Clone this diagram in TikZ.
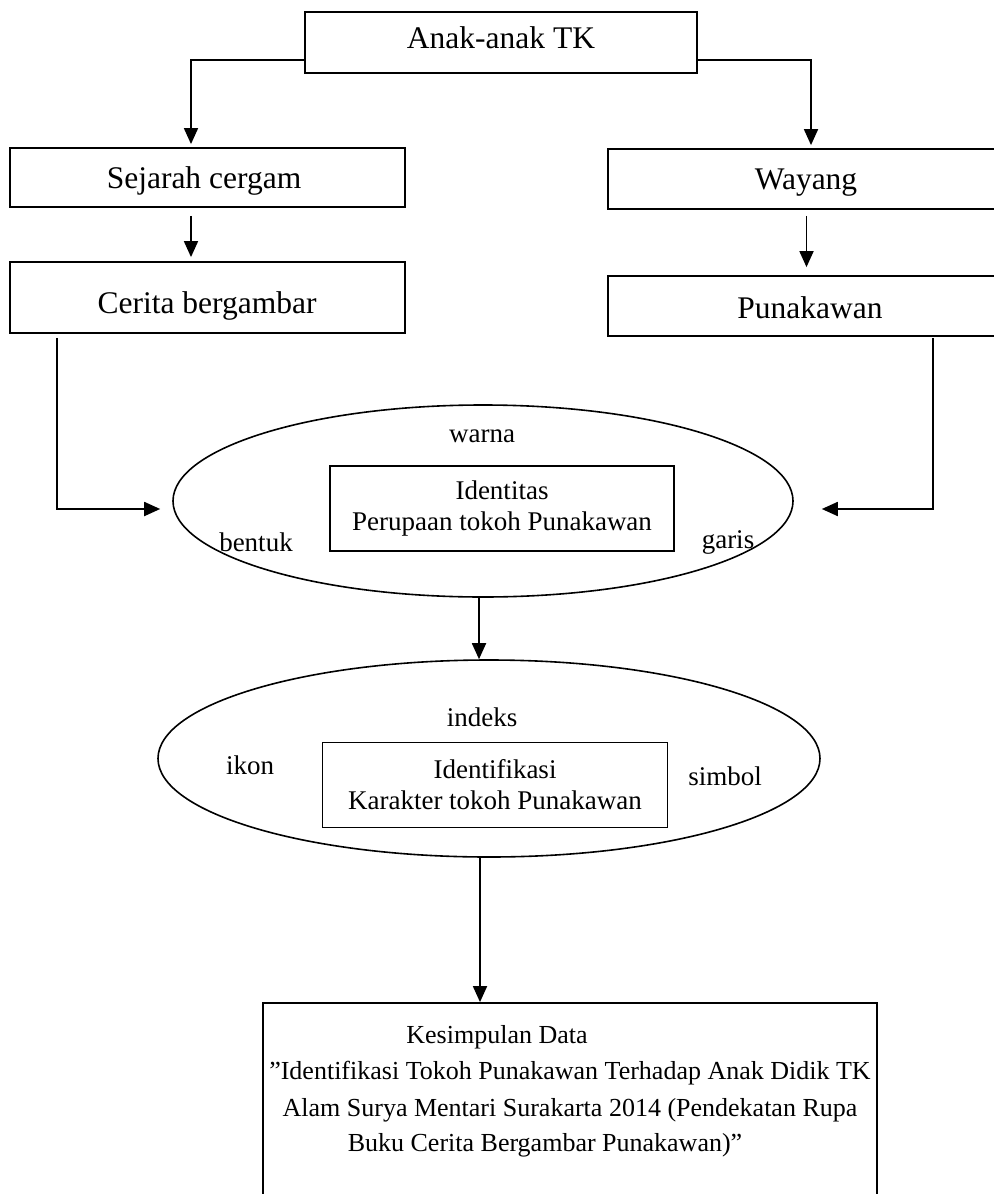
\documentclass[tikz,border=0pt]{standalone}
\usepackage{fontspec}
\setmainfont{Liberation Serif}
\usetikzlibrary{arrows.meta,shapes.geometric}
\begin{document}
\begin{tikzpicture}[x=0.5pt,y=-0.5pt,
  box/.style={draw,line width=0.9pt,inner sep=0pt},
  big/.style={font=\fontsize{15.75pt}{19pt}\selectfont,inner sep=0pt},
  small/.style={font=\fontsize{13.5pt}{15.5pt}\selectfont,align=center,inner sep=0pt},
  concl/.style={font=\fontsize{13pt}{18pt}\selectfont,inner sep=0pt},
  oval/.style={draw,ellipse,line width=0.8pt,inner sep=0pt},
  arr/.style={line width=0.9pt,-{Triangle[length=8pt,width=7pt]}}]
\useasboundingbox (0,0) rectangle (993,1194);
% boxes
\node[box,minimum width=196pt,minimum height=30.5pt] (top) at (501,42.5) {};
\node[big] (ttop) at (501,38) {Anak-anak TK};
\node[box,minimum width=197.5pt,minimum height=29.5pt] (sej) at (207.5,177.5) {};
\node[big] (tsej) at (204,181) {Sejarah cergam};
\node[box,minimum width=198.5pt,minimum height=30pt] (way) at (806.5,179) {};
\node[big] (tway) at (806,183) {Wayang};
\node[box,minimum width=197.5pt,minimum height=35.5pt] (cer) at (207.5,297.5) {};
\node[big] (tcer) at (207,306) {Cerita bergambar};
\node[box,minimum width=198.5pt,minimum height=30pt] (pun) at (806.5,306) {};
\node[big] (tpun) at (810,308) {Punakawan};
% ellipse 1
\node[oval,minimum width=310pt,minimum height=96pt] (e1) at (483,501) {};
\node[box,small,minimum width=172pt,minimum height=42.5pt] (i1) at (502,508.5) {Identitas\\Perupaan tokoh Punakawan};
\node[small] (warna) at (482,436) {warna};
\node[small] (bentuk) at (256,542) {bentuk};
\node[small] (garis) at (728,542) {garis};
% ellipse 2
\node[oval,minimum width=331pt,minimum height=98.5pt] (e2) at (489,758.5) {};
\node[box,small,minimum width=172.5pt,minimum height=42.5pt] (i2) at (495,785) {Identifikasi\\Karakter tokoh Punakawan};
\node[small] (indeks) at (482,717) {indeks};
\node[small] (ikon) at (250,765) {ikon};
\node[small] (simbol) at (725,776) {simbol};
% conclusion box
\node[box,minimum width=307pt,minimum height=113.5pt] (kes) at (570,1116.5) {};
\node[concl] (k1) at (497,1037) {Kesimpulan Data};
\node[concl] (k2) at (570,1073) {”Identifikasi Tokoh Punakawan Terhadap Anak Didik TK};
\node[concl] (k3) at (570,1110) {Alam Surya Mentari Surakarta 2014 (Pendekatan Rupa};
\node[concl] (k4) at (545,1145) {Buku Cerita Bergambar Punakawan)”};
% connectors
\draw[arr] ([yshift=-8.75pt]top.west) -| ([xshift=-8.25pt,yshift=1.5pt]sej.north);
\draw[arr] ([yshift=-8.75pt]top.east) -| ([xshift=2.25pt,yshift=1.5pt]way.north);
\draw[arr] ([xshift=-8.25pt,yshift=-4pt]sej.south) -- ([xshift=-8.25pt,yshift=2pt]cer.north);
\draw[arr] ([yshift=-3pt]way.south) -- ([yshift=4pt]pun.north);
\draw[arr] ([xshift=-75.25pt,yshift=-2pt]cer.south) |- ([xshift=-6pt,yshift=-4pt]e1.west);
\draw[arr] ([xshift=63.25pt,yshift=-0.5pt]pun.south) |- ([xshift=14pt,yshift=-4pt]e1.east);
\draw[arr] ([xshift=-2pt]e1.south) -- ([xshift=-2pt]e1.south |- e2.north);
\draw[arr] ([xshift=-4.5pt]e2.south) -- ([xshift=-4.5pt]e2.south |- kes.north);
\end{tikzpicture}
\end{document}
